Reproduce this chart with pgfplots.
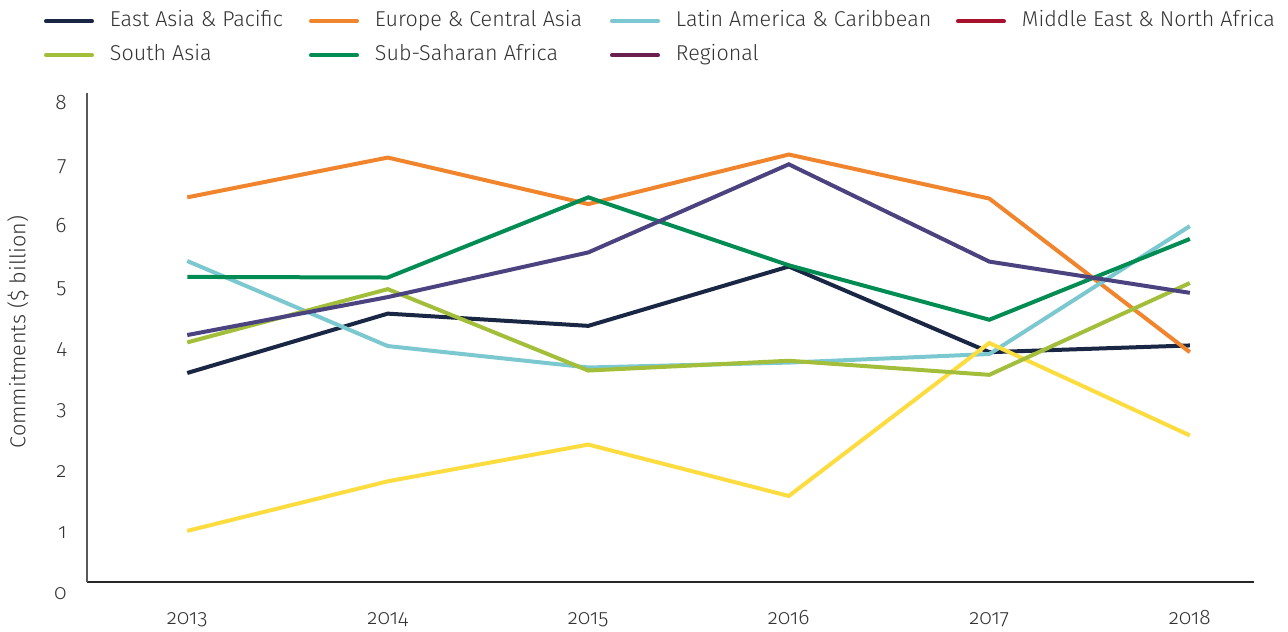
\documentclass[border=0pt]{standalone}
\usepackage{pgfplots}
\pgfplotsset{compat=1.18}
\usepackage{fontspec}
\setmainfont{Fira Sans Light}[Numbers=OldStyle]
\definecolor{eap}{HTML}{1A2744}
\definecolor{eca}{HTML}{F0852D}
\definecolor{lac}{HTML}{7CC8D0}
\definecolor{mena}{HTML}{A6122D}
\definecolor{menaline}{HTML}{FDDC3F}
\definecolor{sa}{HTML}{A3BE3A}
\definecolor{ssa}{HTML}{008C52}
\definecolor{reg}{HTML}{6B1F4F}
\definecolor{regline}{HTML}{4A4380}
\definecolor{txt}{HTML}{333333}
\begin{document}
\begin{tikzpicture}
\begin{axis}[
 scale only axis, width=583.5pt, height=244.8pt,
 xmin=2012.5, xmax=2018.32, ymin=0, ymax=8,
 axis lines=left, axis line style={-},
 x axis line style={draw=black!85, line width=1pt},
 y axis line style={draw=black!65, line width=0.7pt},
 xtick={2013,...,2018}, ytick={0,...,8},
 major tick length=0pt,
 /pgf/number format/assume math mode=true,
 /pgf/number format/1000 sep={},
 tick label style={font=\fontsize{10.5}{12}\selectfont, text=txt},
 xticklabel style={anchor=base, inner sep=0pt, yshift=-21.3pt},
 yticklabel style={anchor=base east, inner sep=0pt, xshift=-10pt, yshift=-8.6pt},
 ylabel={Commitments (\$ billion)},
 every axis y label/.style={at={(axis description cs:-0.0591,0.511)}, rotate=90, anchor=center, font=\fontsize{10.8}{12}\selectfont, text=txt},
 legend columns=4,
 legend cell align=left,
 legend style={draw=none, fill=none, at={(axis description cs:0,1)}, anchor=north west, xshift=-21.7pt, yshift=41.4pt,
   font=\fontsize{10.75}{12}\selectfont, text=txt,
   nodes={inner sep=0pt, text height=8pt, text depth=3pt},
   /tikz/every odd column/.append style={column sep=8pt},
   /tikz/every even column/.append style={column sep=14pt},
   row sep=6pt, inner sep=0pt},
 legend image code/.code={\draw[line cap=round] (1pt,0pt) -- (24pt,0pt);},
 every axis plot/.append style={line width=2pt},
]
\addlegendimage{color=eap, line width=2pt}
\addlegendentry{\makebox[85.5pt][l]{East Asia \& Pacific}}
\addlegendimage{color=eca, line width=2pt}
\addlegendentry{\makebox[103.5pt][l]{Europe \& Central Asia}}
\addlegendimage{color=lac, line width=2pt}
\addlegendentry{\makebox[126pt][l]{Latin America \& Caribbean}}
\addlegendimage{color=mena, line width=2pt}
\addlegendentry{\makebox[126.5pt][l]{Middle East \& North Africa}}
\addlegendimage{color=sa, line width=2pt}
\addlegendentry{South Asia}
\addlegendimage{color=ssa, line width=2pt}
\addlegendentry{Sub-Saharan Africa}
\addlegendimage{color=reg, line width=2pt}
\addlegendentry{Regional}

\addplot[eap, forget plot] coordinates {(2013,3.42) (2014,4.39) (2015,4.19) (2016,5.16) (2017,3.76) (2018,3.87)};
\addplot[eca, forget plot] coordinates {(2013,6.29) (2014,6.94) (2015,6.18) (2016,6.99) (2017,6.27) (2018,3.76)};
\addplot[lac, forget plot] coordinates {(2013,5.25) (2014,3.86) (2015,3.51) (2016,3.59) (2017,3.73) (2018,5.82)};
\addplot[menaline, forget plot] coordinates {(2013,0.84) (2014,1.65) (2015,2.25) (2016,1.41) (2017,3.91) (2018,2.40)};
\addplot[sa, forget plot] coordinates {(2013,3.92) (2014,4.79) (2015,3.46) (2016,3.62) (2017,3.39) (2018,4.89)};
\addplot[ssa, forget plot] coordinates {(2013,4.99) (2014,4.98) (2015,6.29) (2016,5.18) (2017,4.29) (2018,5.61)};
\addplot[regline, forget plot] coordinates {(2013,4.04) (2014,4.66) (2015,5.39) (2016,6.83) (2017,5.24) (2018,4.73)};
\coordinate (bl) at (rel axis cs:0,0);
\coordinate (tr) at (rel axis cs:1,1);
\end{axis}
\path ([shift={(-43.5pt,-24.85pt)}]bl) rectangle ([shift={(17pt,46.35pt)}]tr);
\end{tikzpicture}
\end{document}
